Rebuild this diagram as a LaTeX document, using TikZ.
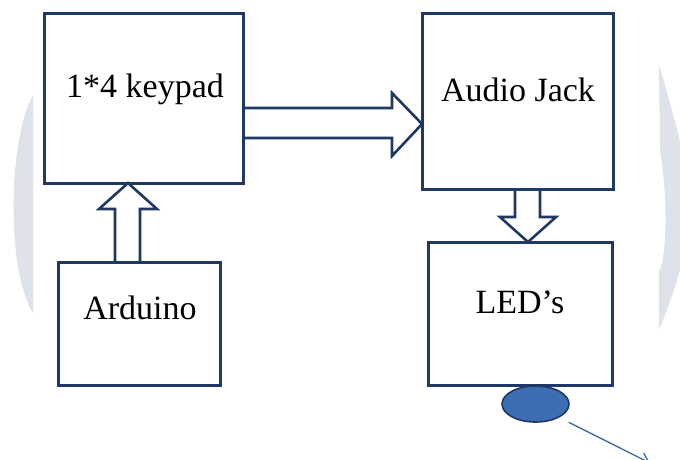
\documentclass[tikz,border=0pt]{standalone}
\usepackage{fontspec}
\setmainfont{Liberation Serif}
\usetikzlibrary{arrows.meta,calc,shapes.geometric}
\definecolor{navy}{HTML}{1F3864}
\definecolor{wm}{HTML}{DDE3E8}
\definecolor{ledblue}{HTML}{3D6DB3}
\definecolor{linkblue}{HTML}{3A66A8}
\begin{document}
\begin{tikzpicture}[x=1pt,y=-1pt,
  box/.style={draw=navy,line width=3pt,inner sep=0pt,outer sep=0pt},
  lbl/.style={anchor=base,inner sep=0pt,font=\fontsize{34}{40}\selectfont},
  blockarr/.style={draw=navy,line width=2.6pt,fill=white,line join=miter},
  ledshape/.style={ellipse,draw=navy,line width=1.6pt,fill=ledblue,inner sep=0pt,minimum width=67pt,minimum height=36pt},
  link/.style={draw=linkblue,line width=1.3pt,-{Straight Barb[length=9pt,width=12pt,line width=1.3pt]}}]
\useasboundingbox (0,0) rectangle (680,459);
\clip (0,0) rectangle (680,459);
\fill[white] (0,0) rectangle (680,459);
% watermark shapes
\fill[wm] (33,95) .. controls (8,140) and (6,270) .. (33,313) -- cycle;
\fill[wm] (659,65) .. controls (668,95) and (676,125) .. (682,150) -- (682,262)
  .. controls (675,290) and (667,310) .. (659,330) -- (659,272)
  .. controls (667,255) and (668,200) .. (660,150) -- cycle;
% boxes (placed first, drawn after the arrows)
\path node[box,draw=none,minimum width=199pt,minimum height=170pt] (keypad) at (143.5,98) {}
      node[box,draw=none,minimum width=162pt,minimum height=123pt] (arduino) at (139,323.5) {}
      node[box,draw=none,minimum width=191pt,minimum height=176pt] (jack) at (517.5,101) {}
      node[box,draw=none,minimum width=184pt,minimum height=143pt] (leds) at (520,313.5) {};
% block arrows
\draw[blockarr] (arduino.north -| 115,0) -- (115,209) -- (99,209) -- (keypad.south -| 128,0)
  -- (157,209) -- (140,209) -- (arduino.north -| 140,0);
\draw[blockarr] (keypad.east |- 0,108) -- (392,108) -- (392,93) -- (jack.west |- 0,124)
  -- (392,156) -- (392,138) -- (keypad.east |- 0,138);
\draw[blockarr] (jack.south -| 515,0) -- (515,217) -- (500,217) -- (leds.north -| 528,0)
  -- (556,217) -- (540,217) -- (jack.south -| 540,0);
% box outlines
\foreach \b in {keypad,arduino,jack,leds}
  \draw[navy,line width=3pt] (\b.north west) rectangle (\b.south east);
% labels
\node[lbl] (tkeypad) at (145,97) {1*4 keypad};
\node[lbl] (tarduino) at (140,319) {Arduino};
\node[lbl] (tjack) at (518,101) {Audio Jack};
\node[lbl] (tleds) at (520,313) {LED’s};
% LED and pointer
\node[ledshape] (led) at (535.5,404) {};
\coordinate (pend) at (650,463);
\draw[link] ($(led.south east)+(9,5)$) -- (pend);
\end{tikzpicture}
\end{document}
